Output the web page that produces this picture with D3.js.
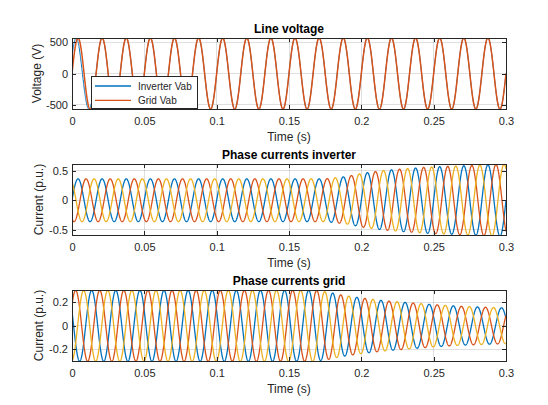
<!DOCTYPE html>
<html><head><meta charset="utf-8">
<script src="https://cdn.jsdelivr.net/npm/d3@7"></script>
<style>
body{margin:0;background:#fff}
svg{display:block}
text{font-family:"Liberation Sans",Arial,Helvetica,sans-serif}
</style>
</head><body>
<svg id="c" width="548" height="405"></svg>
<script>
// ---------------- data ----------------
const timeTicks = [0, 0.05, 0.1, 0.15, 0.2, 0.25, 0.3];
const timeTickLabels = ["0", "0.05", "0.1", "0.15", "0.2", "0.25", "0.3"];
const voltageTicks = [-500, 0, 500];
const voltageTickLabels = ["-500", "0", "500"];
const invCurrentTicks = [-0.5, 0, 0.5];
const invCurrentTickLabels = ["-0.5", "0", "0.5"];
const gridCurrentTicks = [-0.2, 0, 0.2];
const gridCurrentTickLabels = ["-0.2", "0", "0.2"];
const titles = ["Line voltage", "Phase currents inverter", "Phase currents grid"];
const yLabels = ["Voltage (V)", "Current (p.u.)", "Current (p.u.)"];
const xLabel = "Time (s)";
const legendLabels = ["Inverter Vab", "Grid Vab"];
const seriesColors = ["#0072BD", "#D95319", "#EDB120"];

const timeLimits = [0, 0.3];
const voltageLimits = [-565, 565];
const invCurrentLimits = [-0.585, 0.61];
const gridCurrentLimits = [-0.3, 0.305];

const fundamentalHz = 60;
const sampleStep = 0.0001;

// line voltage: grid peak, inverter phase lead during start-up
const gridVabPeak = 565;
const invVabLeadTime = [0, 0.006, 0.012, 0.017, 0.3];
const invVabLeadDeg = [28, 26, 18, 0, 0];

// inverter phase currents: peak envelope and phase angles
const invCurEnvTime = [0, 0.175, 0.19, 0.2, 0.215, 0.23, 0.245, 0.26, 0.28, 0.3];
const invCurEnvPeak = [0.36, 0.36, 0.40, 0.45, 0.50, 0.53, 0.555, 0.57, 0.59, 0.605];
const invCurPhaseDeg = [0, -120, 120];

// grid phase currents: peak envelope and phase angles
const gridCurEnvTime = [0, 0.168, 0.178, 0.185, 0.2, 0.215, 0.23, 0.25, 0.27, 0.3];
const gridCurEnvPeak = [0.302, 0.302, 0.285, 0.265, 0.237, 0.215, 0.2, 0.18, 0.165, 0.152];
const gridCurPhaseDeg = [156, 36, 276];
const gridCurFirstSample = [null, null, 0.3];

// ---------------- build sampled series ----------------
const w = 2 * Math.PI * fundamentalHz;
const rad = Math.PI / 180;
const times = d3.range(0, timeLimits[1] + sampleStep / 2, sampleStep);

const leadAt = d3.scaleLinear().domain(invVabLeadTime).range(invVabLeadDeg).clamp(true);
const gridVab = times.map(t => ({t, v: gridVabPeak * Math.sin(w * t)}));
const invVab = times.map(t => ({t, v: gridVabPeak * Math.sin(w * t + leadAt(t) * rad)}));

const invEnv = d3.scaleLinear().domain(invCurEnvTime).range(invCurEnvPeak).clamp(true);
const invCurrents = invCurPhaseDeg.map(ph => times.map(t => ({t, v: invEnv(t) * Math.sin(w * t + ph * rad)})));

const gridEnv = d3.scaleLinear().domain(gridCurEnvTime).range(gridCurEnvPeak).clamp(true);
const gridCurrents = gridCurPhaseDeg.map((ph, i) => {
  const s = times.map(t => ({t, v: gridEnv(t) * Math.sin(w * t + ph * rad)}));
  if (gridCurFirstSample[i] !== null) s[0] = {t: 0, v: gridCurFirstSample[i]};
  return s;
});

// ---------------- layout ----------------
const svg = d3.select("#c");
const L = 72, R = 506;
const panels = [
  {top: 38, bottom: 109, lim: voltageLimits, ticks: voltageTicks, labels: voltageTickLabels,
   series: [invVab, gridVab], widths: [1.0, 1.5], ylabX: 41},
  {top: 164, bottom: 235, lim: invCurrentLimits, ticks: invCurrentTicks, labels: invCurrentTickLabels,
   series: invCurrents, widths: [1.3, 1.3, 1.3], ylabX: 43},
  {top: 290, bottom: 361, lim: gridCurrentLimits, ticks: gridCurrentTicks, labels: gridCurrentTickLabels,
   series: gridCurrents, widths: [1.3, 1.3, 1.3], ylabX: 43}
];
const x = d3.scaleLinear().domain(timeLimits).range([L, R]);
const tickLen = 4.3;
const axisColor = "#262626";

panels.forEach((p, pi) => {
  const y = d3.scaleLinear().domain(p.lim).range([p.bottom, p.top]);
  const g = svg.append("g");

  // grid lines
  g.append("g").selectAll("line").data(timeTicks.slice(1, -1)).join("line")
    .attr("x1", d => x(d)).attr("x2", d => x(d)).attr("y1", p.top).attr("y2", p.bottom)
    .attr("stroke", axisColor).attr("stroke-opacity", 0.15).attr("stroke-width", 1)
    .attr("shape-rendering", "crispEdges");
  g.append("g").selectAll("line").data(p.ticks).join("line")
    .attr("x1", L).attr("x2", R).attr("y1", d => y(d)).attr("y2", d => y(d))
    .attr("stroke", axisColor).attr("stroke-opacity", 0.15).attr("stroke-width", 1)
    .attr("shape-rendering", "crispEdges");

  // clip
  const cid = "clip" + pi;
  svg.append("clipPath").attr("id", cid).append("rect")
    .attr("x", L).attr("y", p.top).attr("width", R - L).attr("height", p.bottom - p.top);

  const line = d3.line().x(d => x(d.t)).y(d => y(d.v));
  g.append("g").attr("clip-path", `url(#${cid})`)
    .selectAll("path").data(p.series).join("path")
    .attr("d", d => line(d)).attr("fill", "none")
    .attr("stroke", (d, i) => seriesColors[i]).attr("stroke-width", (d, i) => p.widths[i])
    .attr("stroke-linejoin", "round");

  // axes
  const ax = g.append("g").attr("transform", `translate(0,${p.bottom})`)
    .call(d3.axisBottom(x).tickValues(timeTicks).tickFormat((d, i) => timeTickLabels[i])
      .tickSizeInner(-tickLen).tickSizeOuter(0).tickPadding(8.2));
  const ay = g.append("g").attr("transform", `translate(${L},0)`)
    .call(d3.axisLeft(y).tickValues(p.ticks).tickFormat((d, i) => p.labels[i])
      .tickSizeInner(-tickLen).tickSizeOuter(0).tickPadding(4));
  const at = g.append("g").attr("transform", `translate(0,${p.top})`)
    .call(d3.axisTop(x).tickValues(timeTicks).tickFormat("").tickSizeInner(-tickLen).tickSizeOuter(0));
  const ar = g.append("g").attr("transform", `translate(${R},0)`)
    .call(d3.axisRight(y).tickValues(p.ticks).tickFormat("").tickSizeInner(-tickLen).tickSizeOuter(0));
  [ax, ay, at, ar].forEach(a => {
    a.select(".domain").remove();
    a.selectAll("line").attr("stroke", axisColor).attr("shape-rendering", "crispEdges");
    a.selectAll("text").attr("fill", axisColor).attr("font-size", 11)
      .attr("font-family", '"Liberation Sans",Arial,Helvetica,sans-serif');
  });

  // box
  g.append("rect").attr("x", L).attr("y", p.top).attr("width", R - L).attr("height", p.bottom - p.top)
    .attr("fill", "none").attr("stroke", axisColor).attr("stroke-width", 1)
    .attr("shape-rendering", "crispEdges");

  // title
  g.append("text").attr("x", (L + R) / 2).attr("y", p.top - 5.5).attr("text-anchor", "middle")
    .attr("font-size", 12).attr("font-weight", "bold").attr("fill", "#000").text(titles[pi]);
  // x label
  g.append("text").attr("x", (L + R) / 2).attr("y", p.bottom + 31.5).attr("text-anchor", "middle")
    .attr("font-size", 12).attr("fill", axisColor).text(xLabel);
  // y label
  g.append("text").attr("transform", `translate(${p.ylabX},${(p.top + p.bottom) / 2}) rotate(-90)`)
    .attr("text-anchor", "middle").attr("font-size", 12).attr("fill", axisColor).text(yLabels[pi]);
});

// legend (top panel)
const lg = svg.append("g");
lg.append("rect").attr("x", 91.5).attr("y", 76.5).attr("width", 105.5).attr("height", 32)
  .attr("fill", "#fff").attr("stroke", axisColor).attr("stroke-width", 1)
  .attr("shape-rendering", "crispEdges");
legendLabels.forEach((lab, i) => {
  const yy = 86 + i * 14.3;
  lg.append("line").attr("x1", 95).attr("x2", 131).attr("y1", yy).attr("y2", yy)
    .attr("stroke", seriesColors[i]).attr("stroke-width", 1.3);
  lg.append("text").attr("x", 138).attr("y", yy + 3.6).attr("font-size", 10)
    .attr("fill", axisColor).text(lab);
});
</script>
</body></html>
